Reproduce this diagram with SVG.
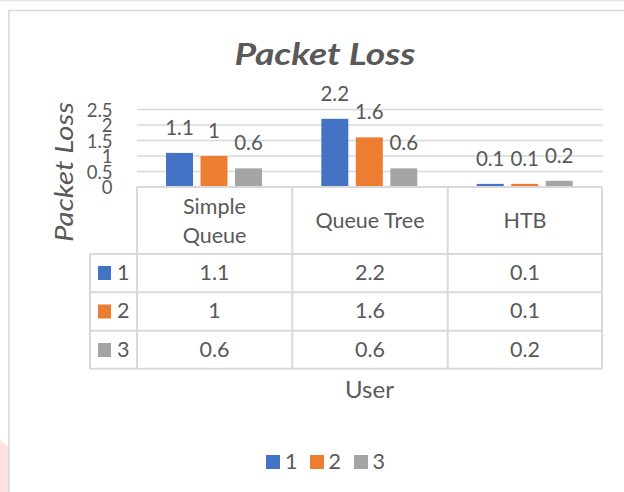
<svg xmlns="http://www.w3.org/2000/svg" width="624" height="492" viewBox="0 0 624 492">
  <style>
    text { font-family: Lato, "Liberation Sans", sans-serif; fill: #595959; }
    .title { font-size: 30px; font-weight: bold; font-style: italic; }
    .axis-title { font-size: 25px; font-style: italic; }
    .x-title { font-size: 24px; }
    .tick { font-size: 18.5px; text-anchor: end; }
    .label { font-size: 20.5px; text-anchor: middle; }
    .cell { font-size: 21.5px; text-anchor: middle; }
    .key { font-size: 21.5px; }
    .grid { stroke: #D9D9D9; stroke-width: 1.6; }
    .rule { stroke: #D9D9D9; stroke-width: 2; fill: none; }
    .s1 { fill: #4472C4; }
    .s2 { fill: #ED7D31; }
    .s3 { fill: #A5A5A5; }
  </style>

  <!-- page background and chart frame -->
  <rect x="0" y="0" width="624" height="492" fill="#FFFFFF"/>
  <line x1="0" y1="0.8" x2="624" y2="0.8" stroke="#E8E8E8" stroke-width="1.6"/>
  <polygon points="0,440 9,447 9,492 0,492" fill="#FFE1E4"/>
  <path d="M9,492 V10.5 H624" fill="none" stroke="#D9D9D9" stroke-width="1.6"/>

  <!-- chart title -->
  <g id="title">
    <text class="title" x="325" y="65" text-anchor="middle" textLength="181" lengthAdjust="spacingAndGlyphs">Packet Loss</text>
  </g>

  <!-- value axis -->
  <g id="y-axis">
    <text class="axis-title" transform="translate(73,172) rotate(-90)" text-anchor="middle" textLength="140" lengthAdjust="spacingAndGlyphs">Packet Loss</text>
    <text class="tick" x="112.5" y="116.8">2.5</text>
    <text class="tick" x="112.5" y="132.3">2</text>
    <text class="tick" x="112.5" y="147.8">1.5</text>
    <text class="tick" x="112.5" y="163.3">1</text>
    <text class="tick" x="112.5" y="178.8">0.5</text>
    <text class="tick" x="112.5" y="194.3">0</text>
  </g>

  <!-- horizontal gridlines -->
  <g id="gridlines">
    <line class="grid" x1="137" y1="109.5" x2="603" y2="109.5"/>
    <line class="grid" x1="137" y1="125" x2="603" y2="125"/>
    <line class="grid" x1="137" y1="140.5" x2="603" y2="140.5"/>
    <line class="grid" x1="137" y1="156" x2="603" y2="156"/>
    <line class="grid" x1="137" y1="171.5" x2="603" y2="171.5"/>
  </g>

  <!-- series 1 -->
  <g id="series-1">
    <rect class="s1" x="166" y="152.9" width="27" height="34.1"/>
    <rect class="s1" x="321.3" y="118.8" width="27" height="68.2"/>
    <rect class="s1" x="476.7" y="183.9" width="27" height="3.1"/>
    <text class="label" x="179.5" y="134.9">1.1</text>
    <text class="label" x="334.8" y="100.8">2.2</text>
    <text class="label" x="490.2" y="165.9">0.1</text>
  </g>

  <!-- series 2 -->
  <g id="series-2">
    <rect class="s2" x="200.5" y="156" width="27" height="31"/>
    <rect class="s2" x="355.8" y="137.4" width="27" height="49.6"/>
    <rect class="s2" x="511.2" y="183.9" width="27" height="3.1"/>
    <text class="label" x="214" y="138">1</text>
    <text class="label" x="369.3" y="119.4">1.6</text>
    <text class="label" x="524.7" y="165.9">0.1</text>
  </g>

  <!-- series 3 -->
  <g id="series-3">
    <rect class="s3" x="235" y="168.4" width="27" height="18.6"/>
    <rect class="s3" x="390.3" y="168.4" width="27" height="18.6"/>
    <rect class="s3" x="545.7" y="180.8" width="27" height="6.2"/>
    <text class="label" x="248.5" y="150.4">0.6</text>
    <text class="label" x="403.8" y="150.4">0.6</text>
    <text class="label" x="559.2" y="162.8">0.2</text>
  </g>

  <!-- data table -->
  <g id="data-table">
    <path class="rule" d="M137,187 H602 M90,254 H602 M90,292.3 H602 M90,330.7 H602 M90,368.7 H602"/>
    <path class="rule" d="M137,187 V368.7 M292.3,187 V368.7 M447.7,187 V368.7 M602,187 V368.7 M90,254 V368.7"/>

    <text class="cell" x="214.5" y="213.5">Simple</text>
    <text class="cell" x="214.5" y="243">Queue</text>
    <text class="cell" x="370" y="228">Queue Tree</text>
    <text class="cell" x="525" y="228">HTB</text>

    <rect class="s1" x="98" y="266" width="13" height="14"/>
    <text class="key" x="117" y="280">1</text>
    <text class="cell" x="214.5" y="280">1.1</text>
    <text class="cell" x="370" y="280">2.2</text>
    <text class="cell" x="525" y="280">0.1</text>

    <rect class="s2" x="98" y="304.5" width="13" height="14"/>
    <text class="key" x="117" y="318.3">2</text>
    <text class="cell" x="214.5" y="318.3">1</text>
    <text class="cell" x="370" y="318.3">1.6</text>
    <text class="cell" x="525" y="318.3">0.1</text>

    <rect class="s3" x="98" y="343" width="13" height="14"/>
    <text class="key" x="117" y="356.7">3</text>
    <text class="cell" x="214.5" y="356.7">0.6</text>
    <text class="cell" x="370" y="356.7">0.6</text>
    <text class="cell" x="525" y="356.7">0.2</text>
  </g>

  <!-- category axis title -->
  <g id="x-axis">
    <text class="x-title" x="369.5" y="398" text-anchor="middle">User</text>
  </g>

  <!-- legend -->
  <g id="legend">
    <rect class="s1" x="266" y="455" width="14" height="14"/>
    <text class="key" x="285" y="469">1</text>
    <rect class="s2" x="310" y="455" width="14" height="14"/>
    <text class="key" x="328.5" y="469">2</text>
    <rect class="s3" x="354" y="455" width="14" height="14"/>
    <text class="key" x="372.5" y="469">3</text>
  </g>
</svg>
